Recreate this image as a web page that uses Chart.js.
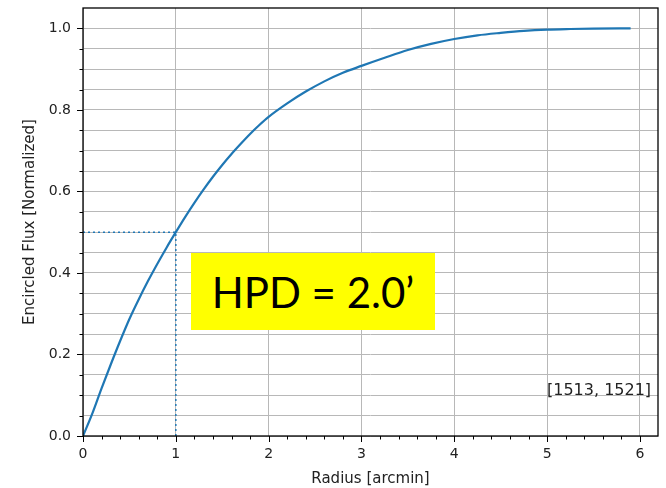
<!DOCTYPE html>
<html>
<head>
<meta charset="utf-8">
<script src="https://cdn.jsdelivr.net/npm/chart.js@4"></script>
<style>
  body { margin: 0; background: #fff; }
  #wrap { position: relative; width: 666px; height: 488px; }
  #hpd {
    position: absolute; left: 191px; top: 253px; width: 244px; height: 77px;
    background: #ffff00; color: #000;
    font-family: Lato, "Open Sans", sans-serif; font-size: 42px;
    display: flex; align-items: center; justify-content: center;
  }
</style>
</head>
<body>
<div id="wrap">
  <canvas id="chart" width="666" height="488"></canvas>
  <div id="hpd">HPD = 2.0’</div>
</div>
<script>
// radius in arcmin, normalized encircled flux
var radius = [0, 0.1, 0.2, 0.3, 0.4, 0.5, 0.6, 0.7, 0.8, 0.9, 1.0,
  1.1, 1.2, 1.3, 1.4, 1.5, 1.6, 1.7, 1.8, 1.9, 2.0,
  2.2, 2.4, 2.6, 2.8, 3.0, 3.25, 3.5, 3.75, 4.0,
  4.25, 4.5, 4.75, 5.0, 5.25, 5.5, 5.9];
var flux = [0, 0.055, 0.117, 0.176, 0.233, 0.287, 0.335, 0.38, 0.422, 0.462, 0.5,
  0.537, 0.572, 0.605, 0.636, 0.665, 0.692, 0.717, 0.741, 0.763, 0.783,
  0.816, 0.845, 0.87, 0.891, 0.908, 0.928, 0.947, 0.962, 0.974,
  0.983, 0.989, 0.994, 0.997, 0.9985, 0.9995, 1.0];

var hpdRadius = 1.0;
var halfFlux = 0.5;
var regionLabel = "[1513, 1521]";

var blue = "#1f77b4";
var font = "DejaVu Sans";

var curve = radius.map(function (r, i) { return { x: r, y: flux[i] }; });

function isMultiple(v, step) {
  var q = v / step;
  return Math.abs(q - Math.round(q)) < 1e-6;
}

// ticks, spines and the region label
var decorations = {
  id: "decorations",
  afterDraw: function (chart) {
    var c = chart.ctx;
    var a = chart.chartArea;
    var xs = chart.scales.x;
    var ys = chart.scales.y;
    c.save();
    c.strokeStyle = "#000";
    c.lineWidth = 1;
    xs.ticks.forEach(function (t) {
      var px = Math.round(xs.getPixelForValue(t.value)) + 0.5;
      var len = isMultiple(t.value, 1) ? 6 : 3.5;
      c.beginPath();
      c.moveTo(px, a.bottom);
      c.lineTo(px, a.bottom + len);
      c.stroke();
    });
    ys.ticks.forEach(function (t) {
      var py = Math.round(ys.getPixelForValue(t.value)) + 0.5;
      var len = isMultiple(t.value, 0.2) ? 6 : 3.5;
      c.beginPath();
      c.moveTo(a.left, py);
      c.lineTo(a.left - len, py);
      c.stroke();
    });
    c.lineWidth = 1.3;
    c.strokeRect(a.left, a.top, a.right - a.left, a.bottom - a.top);
    c.fillStyle = "#222";
    c.font = "16px '" + font + "'";
    c.textAlign = "right";
    c.textBaseline = "middle";
    c.fillText(regionLabel, a.left + 0.988 * (a.right - a.left), a.bottom - 0.105 * (a.bottom - a.top));
    c.restore();
  }
};

var ctx = document.getElementById("chart").getContext("2d");

var myChart = new Chart(ctx, {
  type: "scatter",
  data: {
    datasets: [
      {
        data: curve,
        showLine: true,
        borderColor: blue,
        borderWidth: 2.2,
        pointRadius: 0,
        cubicInterpolationMode: "monotone",
      },
      {
        data: [{ x: 0, y: halfFlux }, { x: hpdRadius, y: halfFlux }],
        showLine: true,
        borderColor: blue,
        borderWidth: 1.5,
        borderDash: [2, 3],
        pointRadius: 0,
      },
      {
        data: [{ x: hpdRadius, y: 0 }, { x: hpdRadius, y: halfFlux }],
        showLine: true,
        borderColor: blue,
        borderWidth: 1.5,
        borderDash: [2, 3],
        pointRadius: 0,
      },
    ],
  },
  options: {
    responsive: false,
    animation: false,
    events: [],
    layout: { padding: { left: 21, right: 8, top: 8, bottom: 0 } },
    plugins: { legend: { display: false }, tooltip: { enabled: false } },
    scales: {
      x: {
        type: "linear",
        min: 0,
        max: 6.195,
        border: { display: false },
        grid: {
          drawTicks: false,
          lineWidth: 1,
          color: function (c) {
            return c.tick && isMultiple(c.tick.value, 1) ? "#b8b8b8" : "rgba(0,0,0,0)";
          },
        },
        ticks: {
          stepSize: 0.2,
          includeBounds: false,
          autoSkip: false,
          maxRotation: 0,
          padding: 10,
          color: "#222",
          font: { family: font, size: 14 },
          callback: function (v) {
            return isMultiple(v, 1) ? String(Math.round(v)) : "";
          },
        },
        title: {
          display: true,
          text: "Radius [arcmin]",
          color: "#222",
          font: { family: font, size: 15 },
          padding: { top: 4, bottom: 0 },
        },
        afterFit: function (scale) {
          scale.height = 52;
          scale.paddingLeft = 0;
          scale.paddingRight = 0;
        },
      },
      y: {
        type: "linear",
        min: 0,
        max: 1.05,
        border: { display: false },
        grid: { drawTicks: false, lineWidth: 1, color: "#b8b8b8" },
        ticks: {
          stepSize: 0.05,
          includeBounds: false,
          autoSkip: false,
          padding: 12,
          color: "#222",
          font: { family: font, size: 14 },
          callback: function (v) {
            return isMultiple(v, 0.2) ? v.toFixed(1) : "";
          },
        },
        afterBuildTicks: function (scale) {
          scale.ticks = scale.ticks.filter(function (t) { return t.value <= 1.0001; });
        },
        title: {
          display: true,
          text: "Encircled Flux [Normalized]",
          color: "#222",
          font: { family: font, size: 15 },
          padding: { top: 0, bottom: 0 },
        },
        afterFit: function (scale) {
          scale.width = 62;
          scale.paddingTop = 0;
          scale.paddingBottom = 0;
        },
      },
    },
  },
  plugins: [decorations],
});
</script>
</body>
</html>
